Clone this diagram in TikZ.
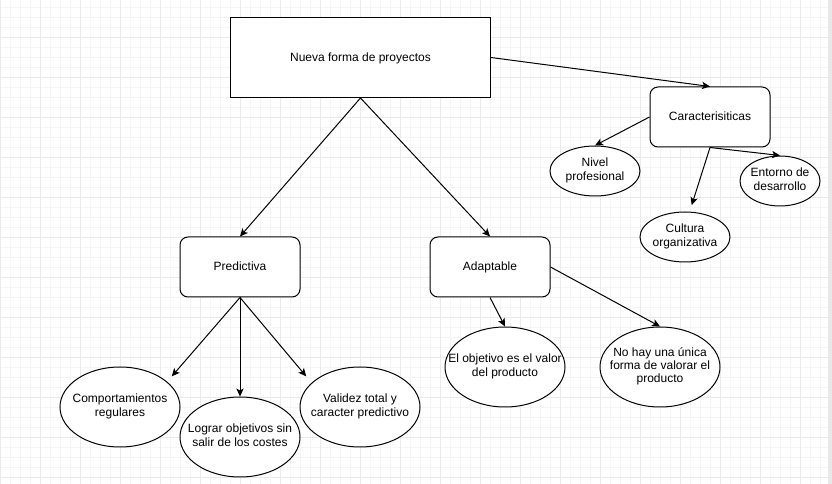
\documentclass[tikz,border=0pt]{standalone}
\usepackage{fontspec}
\setmainfont{Liberation Sans}
\usetikzlibrary{arrows.meta,shapes.geometric}

\definecolor{gridminor}{HTML}{F5F5F5}
\definecolor{gridmajor}{HTML}{EAEAEA}
\definecolor{sidebar}{HTML}{E8E8E8}

% centred multi-line text that does not widen its node
\newcommand\ovaltext[1]{\makebox[0pt]{\raisebox{-1.2pt}{\begin{tabular}{@{}c@{}}#1\end{tabular}}}}

\begin{document}
\begin{tikzpicture}[x=0.75pt,y=-0.75pt,
  every node/.style={font=\fontsize{9pt}{10pt}\selectfont},
  mainbox/.style={rectangle, draw, line width=0.75pt, fill=white, inner sep=0pt,
    minimum width=195pt, minimum height=60pt, text height=7.5pt, text depth=2pt},
  roundbox/.style={rectangle, rounded corners=6pt, draw, line width=0.75pt, fill=white,
    inner sep=0pt, minimum width=90pt, minimum height=45pt, text height=7.5pt, text depth=2pt},
  oval/.style={ellipse, draw, line width=0.75pt, fill=white, inner sep=0pt,
    minimum width=90pt, minimum height=60pt},
  smalloval/.style={ellipse, draw, line width=0.75pt, fill=white, inner sep=0pt,
    minimum height=37.5pt},
  link/.style={draw, line width=0.75pt, -{Stealth[length=6pt,width=5.5pt,inset=1.5pt]}}
]
\useasboundingbox (0,0) rectangle (832,484);

% grid background (lines centred on pixel columns/rows)
\fill[white] (0,0) rectangle (832,484);
\foreach \x in {0.5,10.5,...,820.5} \draw[gridminor, line width=0.75pt] (\x,0) -- (\x,484);
\foreach \y in {7.5,17.5,...,477.5} \draw[gridminor, line width=0.75pt] (0,\y) -- (828,\y);
\foreach \x in {0.5,40.5,...,800.5} \draw[gridmajor, line width=0.75pt] (\x,0) -- (\x,484);
\foreach \y in {37.5,77.5,...,477.5} \draw[gridmajor, line width=0.75pt] (0,\y) -- (828,\y);
\fill[sidebar] (828,0) rectangle (832,484);

% nodes
\node[mainbox] (main) at (360.5,57.5) {Nueva forma de proyectos};
\node[roundbox] (car) at (710,117) {Caracterisiticas};
\node[smalloval, minimum width=67.5pt] (niv) at (595,171) {\ovaltext{Nivel\\profesional}};
\node[smalloval, minimum width=60pt] (ent) at (780,181) {\ovaltext{Entorno de\\desarrollo}};
\node[smalloval, minimum width=67.5pt] (cul) at (685,237) {\ovaltext{Cultura\\organizativa}};

\node[roundbox] (pred) at (240,267) {Predictiva};
\node[roundbox] (ada) at (490,267) {Adaptable};

\node[oval] (comp) at (120,407) {\ovaltext{Comportamientos\\regulares}};
\node[oval] (log) at (240,437) {\ovaltext{Lograr objetivos sin\\salir de los costes}};
\node[oval] (val) at (360,407) {\ovaltext{Validez total y\\caracter predictivo}};
\node[oval] (obj) at (505,367) {\ovaltext{El objetivo es el valor\\del producto}};
\node[oval] (nohay) at (660,367) {\ovaltext{No hay una única\\forma de valorar el\\producto}};

% connectors
\path[link] (main.east) -- (car.north);
\path[link] (main.south) -- (pred.north);
\path[link] (main.south) -- (ada.north);

\path[link] (car.west) -- (niv.north);
\path[link, shorten >=5pt] (car.south) -- ([xshift=3.5pt]cul.north);
\path[link] (car.south) -- (ent.north);

\path[link] (pred.south) -- ([shift={(9,-2)}]comp.north east);
\path[link] (pred.south) -- (log.north);
\path[link] (pred.south) -- ([shift={(-11,-2)}]val.north west);

\path[link] (ada.south) -- (obj.north);
\path[link] (ada.east) -- (nohay.north);
\end{tikzpicture}
\end{document}
